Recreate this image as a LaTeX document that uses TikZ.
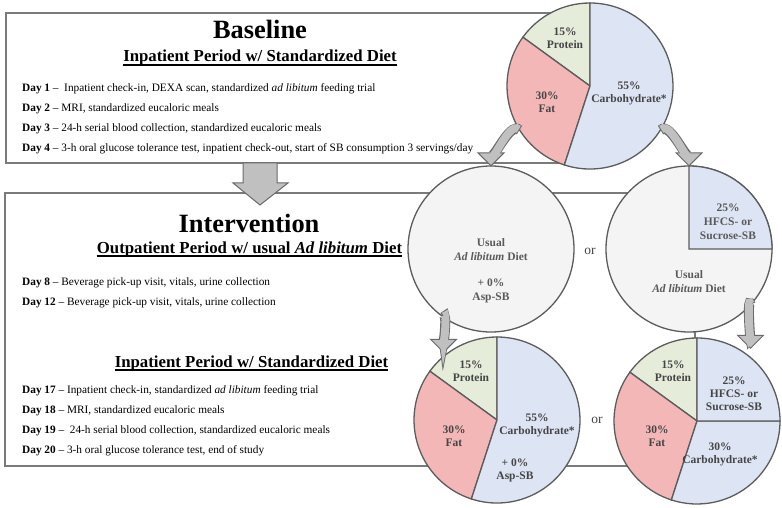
\documentclass[tikz,border=0pt]{standalone}
\usepackage{fontspec}
\setmainfont{Liberation Serif}
\usetikzlibrary{calc}

\definecolor{boxline}{HTML}{7A7A7A}
\definecolor{pieline}{HTML}{5C5C5C}
\definecolor{protein}{HTML}{E6ECDA}
\definecolor{fat}{HTML}{F4B7B7}
\definecolor{carb}{HTML}{DDE4F4}
\definecolor{usual}{HTML}{F4F4F4}
\definecolor{arrowfill}{HTML}{C0C0C0}
\definecolor{arrowline}{HTML}{6A6A6A}
\definecolor{labeltext}{HTML}{454545}
\definecolor{dietext}{HTML}{5A5A5A}

\tikzset{
  stagebox/.style={draw=boxline, line width=1.5pt},
  slice/.style={draw=pieline, line width=1.3pt},
  pienode/.style={circle, minimum size=166pt, inner sep=0pt},
  pielabel/.style={font=\fontsize{11.5}{13}\selectfont\bfseries, text=labeltext, align=center},
  dietlabel/.style={font=\fontsize{11.5}{14}\selectfont\bfseries, text=dietext, align=center},
  stagetitle/.style={font=\fontsize{26.4}{30}\selectfont\bfseries, inner sep=0pt, anchor=base},
  period/.style={font=\fontsize{16.8}{19}\selectfont\bfseries, inner sep=0pt, anchor=base},
  dayline/.style={font=\fontsize{11.3}{13}\selectfont, inner sep=0pt, anchor=base west},
  ortext/.style={font=\fontsize{13.5}{15}\selectfont, text=labeltext},
}

% one wedge of a pie, angles as drawn in the flipped frame
\newcommand{\pieslice}[4]{%
  \filldraw[slice, fill=#4] (#1) -- ++(#2:83) arc[start angle=#2, end angle=#3, radius=83] -- cycle;}
% thick curved arrow: start, out angle, head base, tip
\newcommand{\fatarrow}[4]{%
  \draw[line width=10pt, arrowline] (#1) to[out=#2, in=-90] (#3);
  \filldraw[fill=arrowfill, draw=arrowline, line width=1pt]
    ($(#3)!13pt!90:(#4)$) -- (#4) -- ($(#3)!13pt!-90:(#4)$) -- cycle;
  \draw[line width=8pt, arrowfill, shorten <=1pt] (#1) to[out=#2, in=-90] ($(#3)!1pt!(#4)$);}

\begin{document}
\begin{tikzpicture}[x=1pt, y=-1pt]
\useasboundingbox (0,0) rectangle (782,508);
\fill[white] (0,0) rectangle (782,508);

% stage boxes
\draw[stagebox] (6,13) rectangle (590,163);
\draw[stagebox] (5,193) rectangle (695,466);

% baseline text
\node[stagetitle] (baseTitle) at (260,39) {Baseline};
\node[period] (basePeriod) at (260,62) {Inpatient Period w/ Standardized Diet};
\draw[line width=1.2pt] ($(basePeriod.base west)+(0,3)$) -- ($(basePeriod.base east)+(0,3)$);
\node[dayline] (day1) at (22,92) {\textbf{Day 1} –\ \ Inpatient check-in, DEXA scan, standardized \textit{ad libitum} feeding trial};
\node[dayline] (day2) at (22,112) {\textbf{Day 2} – MRI, standardized eucaloric meals};
\node[dayline] (day3) at (22,132) {\textbf{Day 3} – 24-h serial blood collection, standardized eucaloric meals};
\node[dayline] (day4) at (22,152) {\textbf{Day 4} – 3-h oral glucose tolerance test, inpatient check-out, start of SB consumption 3 servings/day};

% intervention text
\node[stagetitle] (intTitle) at (249,232) {Intervention};
\node[period] (outPeriod) at (249.5,253) {Outpatient Period w/ usual \textit{Ad libitum} Diet};
\draw[line width=1.2pt] ($(outPeriod.base west)+(0,3)$) -- ($(outPeriod.base east)+(0,3)$);
\node[dayline] (day8) at (22,285) {\textbf{Day 8} – Beverage pick-up visit, vitals, urine collection};
\node[dayline] (day12) at (22,305) {\textbf{Day 12} – Beverage pick-up visit, vitals, urine collection};
\node[period] (inPeriod) at (251.5,367) {Inpatient Period w/ Standardized Diet};
\draw[line width=1.2pt] ($(inPeriod.base west)+(0,3)$) -- ($(inPeriod.base east)+(0,3)$);
\node[dayline] (day17) at (22,393) {\textbf{Day 17} – Inpatient check-in, standardized \textit{ad libitum} feeding trial};
\node[dayline] (day18) at (22,413) {\textbf{Day 18} – MRI, standardized eucaloric meals};
\node[dayline] (day19) at (22,433) {\textbf{Day 19} –\ \ 24-h serial blood collection, standardized eucaloric meals};
\node[dayline] (day20) at (22,453) {\textbf{Day 20} – 3-h oral glucose tolerance test, end of study};

% big arrow between the stages
\coordinate (flow) at (260,163);
\filldraw[fill=arrowfill, draw=arrowline, line width=1pt]
  ($(flow)+(-17,0)$) -- ++(0,20) -- ++(-10,0) -- ($(flow)+(0,42)$)
  -- ($(flow)+(28,20)$) -- ++(-11,0) -- ($(flow)+(17,0)$) -- cycle;

% pie nodes
\node[pienode] (basePie) at (590,86) {};
\node[pienode] (usualPie) at (491,249) {};
\node[pienode] (sugarPie) at (689,249) {};
\node[pienode] (aspPie) at (497,420) {};
\node[pienode] (sucPie) at (697,421) {};

% baseline pie
\pieslice{basePie.center}{-90}{-144}{protein}
\pieslice{basePie.center}{-144}{-252}{fat}
\pieslice{basePie.center}{-252}{-450}{carb}
\node[pielabel] at (565,38) {15\%\\Protein};
\node[pielabel] at (547,102) {30\%\\Fat};
\node[pielabel] at (629,93) {55\%\\Carbohydrate*};

% outpatient diets
\filldraw[slice, fill=usual] (usualPie.center) circle[radius=83];
\node[dietlabel] at (491,250) {Usual\\\textit{Ad libitum} Diet};
\node[dietlabel] at (491,291) {+ 0\%\\Asp-SB};
\node[ortext] at (590,251) {or};
\filldraw[slice, fill=usual] (sugarPie.center) circle[radius=83];
\pieslice{sugarPie.center}{0}{-90}{carb}
\node[dietlabel] at (728,222) {25\%\\HFCS- or\\Sucrose-SB};
\node[dietlabel] at (689,282) {Usual\\\textit{Ad libitum} Diet};

% inpatient diets
\pieslice{aspPie.center}{-90}{-144}{protein}
\pieslice{aspPie.center}{-144}{-252}{fat}
\pieslice{aspPie.center}{-252}{-450}{carb}
\node[pielabel] at (471,371) {15\%\\Protein};
\node[pielabel] at (454,436) {30\%\\Fat};
\node[pielabel] at (537,425) {55\%\\Carbohydrate*};
\node[pielabel] at (515,470) {+ 0\%\\Asp-SB};
\node[ortext] at (597,420) {or};
\pieslice{sucPie.center}{-90}{-144}{protein}
\pieslice{sucPie.center}{-144}{-252}{fat}
\pieslice{sucPie.center}{-252}{-360}{carb}
\pieslice{sucPie.center}{0}{-90}{carb}
\node[pielabel] at (673,371) {15\%\\Protein};
\node[pielabel] at (734,394) {25\%\\HFCS- or\\Sucrose-SB};
\node[pielabel] at (657,436) {30\%\\Fat};
\node[pielabel] at (720,454) {30\%\\Carbohydrate*};

% curved arrows between the diets
\coordinate (a1s) at (basePie.-148);
\coordinate (a1t) at (usualPie.north);
\coordinate (a1b) at ($(a1t)+(0,-13)$);
\fatarrow{a1s}{135}{a1b}{a1t}
\coordinate (a2s) at (basePie.-32);
\coordinate (a2t) at (sugarPie.north);
\coordinate (a2b) at ($(a2t)+(0,-13)$);
\fatarrow{a2s}{45}{a2b}{a2t}
\coordinate (a3s) at (usualPie.-125);
\coordinate (a3t) at ($(aspPie.130)+(0,-4)$);
\coordinate (a3b) at ($(a3t)+(0,-13)$);
\fatarrow{a3s}{60}{a3b}{a3t}
\coordinate (a4s) at (sugarPie.-42);
\coordinate (a4t) at ($(sucPie.50)+(0,-9)$);
\coordinate (a4b) at ($(a4t)+(0,-13)$);
\fatarrow{a4s}{110}{a4b}{a4t}
\end{tikzpicture}
\end{document}
